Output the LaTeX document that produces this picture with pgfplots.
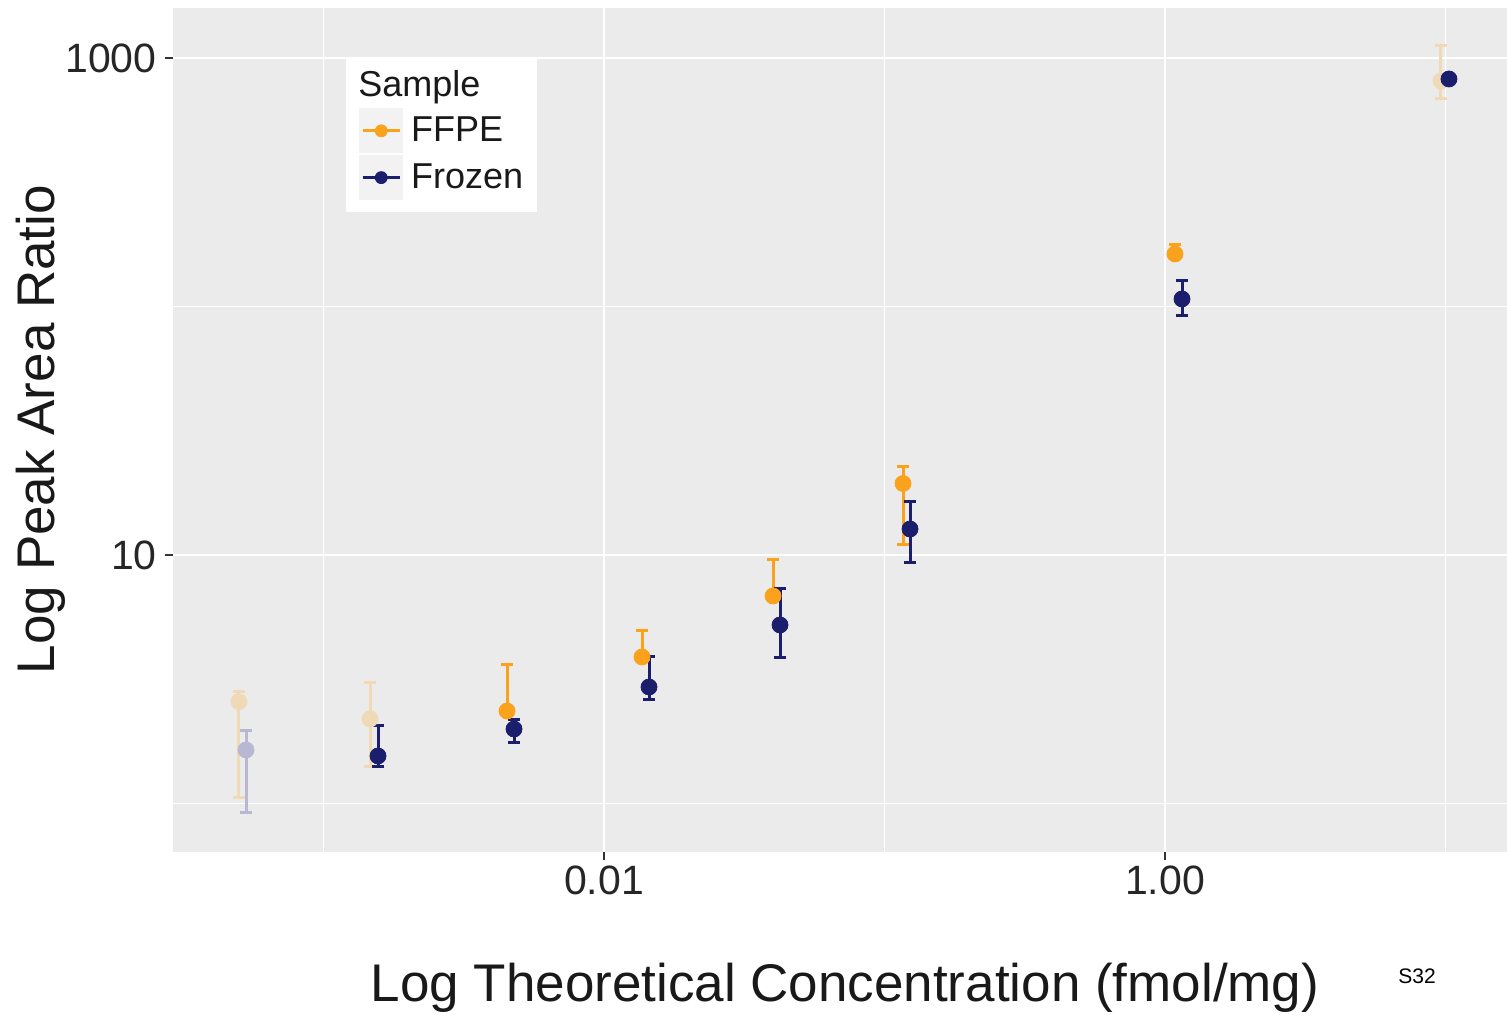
\documentclass[border=0pt]{standalone}
\usepackage{fontspec}
\setmainfont{Liberation Sans}
\usepackage{pgfplots}
\pgfplotsset{compat=1.18}

\definecolor{ffpe}{HTML}{FAA21B}
\definecolor{frozen}{HTML}{1A1E6C}
\definecolor{ffpefade}{HTML}{F0D9B6}
\definecolor{frozenfade}{HTML}{B8B8D2}
\definecolor{panel}{HTML}{EBEBEB}
\definecolor{keybg}{HTML}{F2F2F2}

\pgfplotsset{
  keyimg/.style={legend image code/.code={
      \fill[keybg] (0bp,-11bp) rectangle (21.5bp,11bp);
      \draw[line width=1.4bp] (1.5bp,0bp) -- (20bp,0bp);
      \fill (10.75bp,0bp) circle (3bp);}},
  ebar/.style={only marks, mark=*, mark size=4bp, color=#1,
    mark options={solid, fill=#1, draw=#1},
    error bars/.cd, y dir=both, y explicit,
    error bar style={line width=1.5bp, color=#1},
    error mark options={rotate=90, mark size=2.8bp, line width=1.5bp, color=#1},
    /pgfplots/.cd},
  /pgfplots/error bars/every error bar/.append style={line width=1.5bp},
}

\begin{document}
\begin{tikzpicture}
\begin{loglogaxis}[
    at={(0,0)}, anchor=south west,
    scale only axis,
    width=667bp, height=422bp,
    xmin=2.906e-4, xmax=16.57,
    ymin=0.638, ymax=1589,
    axis line style={draw=none},
    axis background/.style={fill=panel},
    xtick={0.01,1}, xticklabels={0.01,1.00},
    ytick={10,1000}, yticklabels={10,1000},
    extra x ticks={0.001,0.1,10}, extra x tick labels={},
    extra y ticks={1,100}, extra y tick labels={},
    extra tick style={major tick length=0pt, major grid style={white, line width=0.55bp}},
    xmajorgrids, ymajorgrids,
    major grid style={white, line width=1.1bp},
    minor tick length=0pt,
    major tick length=4bp,
    tick align=outside,
    xtick pos=bottom, ytick pos=left,
    tick style={line width=0.9bp, color=black!80},
    /pgf/number format/assume math mode=true,
    ticklabel style={font=\fontsize{20.5bp}{24bp}\selectfont, text=black!85},
    xticklabel style={inner sep=0pt, yshift=-2.5bp},
    yticklabel style={inner sep=0pt, xshift=-4bp},
    xlabel={Log Theoretical Concentration (fmol/mg)},
    ylabel={Log Peak Area Ratio},
    xlabel style={at={(rel axis cs:0.5037,-0.1777)}, anchor=base, font=\fontsize{26.5bp}{30bp}\selectfont, text=black!90},
    ylabel style={at={(rel axis cs:-0.0885,0.5006)}, anchor=base, font=\fontsize{26.5bp}{30bp}\selectfont, text=black!90},
    legend style={at={(rel axis cs:0.1394,0.8815)}, anchor=north west,
      draw=none, fill=none, inner sep=0pt, row sep=1bp,
      font=\fontsize{18bp}{20bp}\selectfont, text=black!90,
      cells={anchor=west}, nodes={inner sep=0pt}},
]
% legend box
\fill[white] (rel axis cs:0.1297,0.9408) rectangle (rel axis cs:0.2729,0.7583);
\node[anchor=base west, inner sep=0pt, font=\fontsize{18bp}{20bp}\selectfont, text=black!90]
  at (rel axis cs:0.1387,0.8957) {Sample};

% FFPE, outside range (faded)
\addplot[forget plot, ebar=ffpefade] table[x=x, y=y, y error plus=ep, y error minus=em] {
x y ep em
0.0004996 2.569 0.241 1.514
0.001465 2.188 0.866 0.773
9.638 807.9 309.8 117.7
};
% FFPE
\addplot[keyimg, ebar=ffpe] table[x=x, y=y, y error plus=ep, y error minus=em] {
x y ep em
0.004511 2.356 1.285 0
0.01366 3.887 1.058 0
0.04004 6.839 2.709 0
0.1164 19.40 3.20 8.43
1.0856 162.7 14.1 0
};
\addlegendentry{\hspace{4bp}FFPE}
% Frozen, outside range (faded)
\addplot[forget plot, ebar=frozenfade] table[x=x, y=y, y error plus=ep, y error minus=em] {
x y ep em
0.0005293 1.642 0.334 0.726
};
% Frozen
\addplot[keyimg, ebar=frozen] table[x=x, y=y, y error plus=ep, y error minus=em] {
x y ep em
0.001564 1.553 0.516 0.138
0.004777 1.994 0.174 0.242
0.01447 2.943 0.944 0.334
0.04241 5.228 2.137 1.377
0.1233 12.72 3.77 3.434
1.1499 107.2 20.6 14.8
10.29 823.1 0 0
};
\addlegendentry{\hspace{4bp}Frozen}
\end{loglogaxis}
\node[anchor=base, inner sep=0pt, font=\fontsize{10.5bp}{12bp}\selectfont] at (622bp,-65.5bp) {S32};
\pgfresetboundingbox
\path[use as bounding box] (-86.5bp,-81.5bp) rectangle (667bp,426bp);
\end{tikzpicture}
\end{document}
